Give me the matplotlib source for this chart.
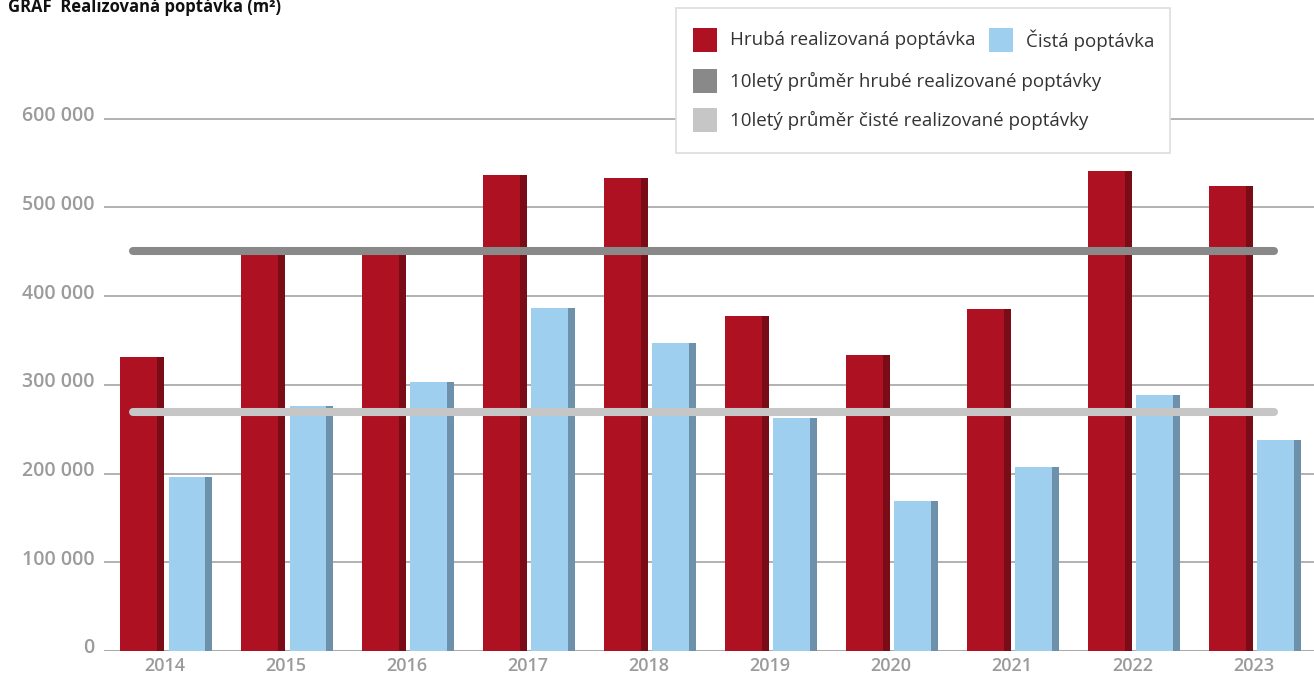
import numpy as np
import matplotlib.pyplot as plt
from matplotlib.patches import Rectangle
from matplotlib.transforms import ScaledTranslation

years = ["2014", "2015", "2016", "2017", "2018", "2019", "2020", "2021", "2022", "2023"]
gross = [331600, 448000, 447000, 536800, 533400, 377800, 333800, 385700, 541300, 524400]
net = [196200, 276000, 303400, 386800, 347400, 262800, 169200, 207500, 288700, 238000]
gross_avg = 451000
net_avg = 269500
yticks = [0, 100000, 200000, 300000, 400000, 500000, 600000]
legend_labels = ["Hrubá realizovaná poptávka", "Čistá poptávka",
                 "10letý průměr hrubé realizované poptávky",
                 "10letý průměr čisté realizované poptávky"]

RED, RED_DARK = "#ae1222", "#7a0c18"
BLUE, BLUE_DARK = "#9ecfee", "#6e91ab"
AVG_DARK, AVG_LIGHT = "#898989", "#c6c6c6"
GRID = "#ababab"
LABEL = "#9b9b9b"
plt.rcParams["font.family"] = ["Open Sans", "DejaVu Sans"]

fig = plt.figure(figsize=(13.14, 6.75), dpi=100)
ax = fig.add_axes([0.0795, 0.0356, 0.9205, 0.92])

x = np.arange(len(years))
bw, side = 0.363, 0.058
# bars with a darker strip on the right edge
ax.bar(x - 0.37, gross, width=bw, align="edge", color=RED, zorder=2)
ax.bar(x - 0.37 + bw - side, gross, width=side, align="edge", color=RED_DARK, zorder=2)
ax.bar(x + 0.03, net, width=bw, align="edge", color=BLUE, zorder=2)
ax.bar(x + 0.03 + bw - side, net, width=side, align="edge", color=BLUE_DARK, zorder=2)

# 10-year averages
ax.plot([-0.265, 9.17], [gross_avg] * 2, color=AVG_DARK, lw=5.8,
        solid_capstyle="round", zorder=3)
ax.plot([-0.265, 9.17], [net_avg] * 2, color=AVG_LIGHT, lw=5.8,
        solid_capstyle="round", zorder=3)

ax.set_xlim(-0.5, 9.5)
ax.set_ylim(0, 700000)
for s in ax.spines.values():
    s.set_visible(False)
for v in yticks[1:]:
    ax.axhline(v, color=GRID, lw=1.3, zorder=1)
ax.axhline(0, color=GRID, lw=2.2, zorder=1)

ax.set_yticks(yticks)
ax.set_yticklabels([f"{v:,}".replace(",", " ") for v in yticks],
                   fontsize=14, color=LABEL, fontweight="semibold")
ax.tick_params(axis="y", length=0, pad=7)
for lab in ax.get_yticklabels():
    lab.set_transform(lab.get_transform() + ScaledTranslation(0, 5 / 100, fig.dpi_scale_trans))

ax.set_xticks(x)
ax.set_xticklabels(years, fontsize=13, color=LABEL, fontweight="semibold")
ax.tick_params(axis="x", length=0, pad=4)

fig.text(0.006, 1 - 12 / 675, "GRAF  Realizovaná poptávka (m²)", fontsize=12,
         fontweight="bold", color="#111111", va="baseline")

# legend box
W, H = 1314, 675
def fx(px):
    return px / W
def fy(py):
    return 1 - py / H

fig.patches.append(Rectangle((fx(676), fy(153)), fx(1170) - fx(676), fy(8) - fy(153),
                             transform=fig.transFigure, facecolor="white",
                             edgecolor="#dddddd", lw=1.2, zorder=5))
entries = [(693, 40, RED, legend_labels[0]),
           (989, 40, BLUE, legend_labels[1]),
           (693, 81, AVG_DARK, legend_labels[2]),
           (693, 120, AVG_LIGHT, legend_labels[3])]
for px, py, col, txt in entries:
    fig.patches.append(Rectangle((fx(px), fy(py + 12)), fx(24), 24 / H,
                                 transform=fig.transFigure, facecolor=col,
                                 edgecolor="none", zorder=6))
    fig.text(fx(px + 37), fy(py), txt, fontsize=13.5, color="#333333",
             va="center", ha="left", zorder=7)

fig.savefig("out.png", dpi=100)
